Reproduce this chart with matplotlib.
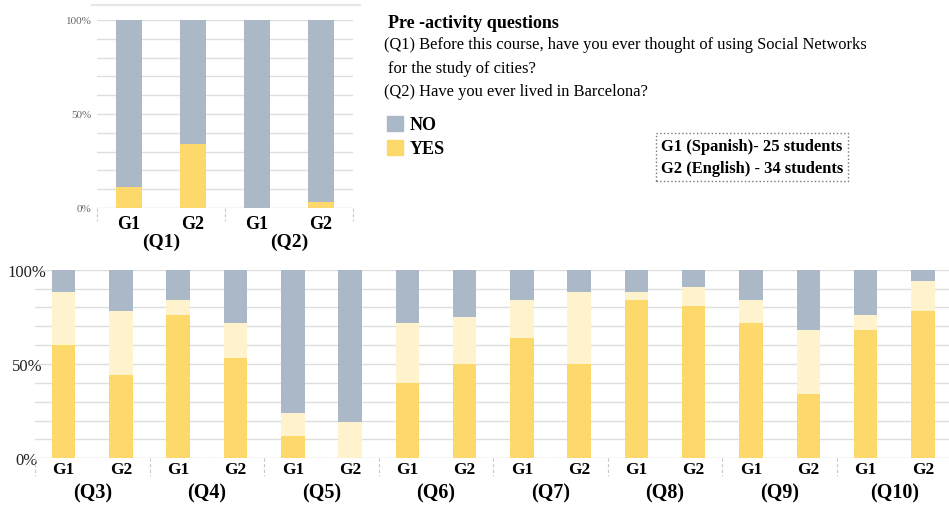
import matplotlib
matplotlib.use("Agg")
import matplotlib.pyplot as plt
from matplotlib.patches import Patch
import numpy as np

plt.rcParams['font.family'] = ['Liberation Serif', 'DejaVu Serif']

C_NO = '#abb8c8'
C_YES = '#fdd86a'
C_MID = '#fef3cc'
C_GRID = '#dedede'

groups = ['G1', 'G2']

# top chart: pre-activity questions
top_q = ['(Q1)', '(Q2)']
top_yes = [11, 34, 0, 3]
top_no = [89, 66, 100, 97]

# bottom chart
bot_q = ['(Q3)', '(Q4)', '(Q5)', '(Q6)', '(Q7)', '(Q8)', '(Q9)', '(Q10)']
bot_yes = [60, 44, 76, 53, 12, 0, 40, 50, 64, 50, 84, 81, 72, 34, 68, 78]
bot_mid = [28, 34, 8, 19, 12, 19, 32, 25, 20, 38, 4, 10, 12, 34, 8, 16]
bot_no = [12, 22, 16, 28, 76, 81, 28, 25, 16, 12, 12, 9, 16, 32, 24, 6]

W, H = 949, 506
fig = plt.figure(figsize=(W / 100, H / 100), dpi=100)


def px_axes(l, t, r, b):
    return fig.add_axes([l / W, 1 - b / H, (r - l) / W, (b - t) / H])


def style_axes(ax, n, sep_len, glabel_y, qlabel_y, qlabels, gsize, qsize):
    ax.set_xlim(-0.5, n - 0.5)
    ax.set_ylim(0, 100)
    for s in ax.spines.values():
        s.set_visible(False)
    ax.set_yticks(np.arange(0, 101, 10), minor=True)
    ax.grid(True, which='both', axis='y', color=C_GRID, lw=1)
    ax.set_axisbelow(True)
    ax.set_xticks([])
    ax.tick_params(axis='y', which='both', length=0)
    ax.axhline(0, color='#c8c8c8', lw=0.8, ls=(0, (3, 2)), zorder=3)
    trans = ax.get_xaxis_transform()
    for k in range(0, n + 1, 2):
        ax.plot([k - 0.5, k - 0.5], [0, -sep_len], transform=trans, clip_on=False,
                color='#c8c8c8', lw=0.8, ls=(0, (3, 2)))
    for i in range(n):
        ax.text(i, glabel_y, groups[i % 2], transform=trans, ha='center', va='center',
                fontsize=gsize, fontweight='bold')
    for j, q in enumerate(qlabels):
        ax.text(2 * j + 0.5, qlabel_y, q, transform=trans, ha='center', va='center',
                fontsize=qsize, fontweight='bold')


# ---- top chart
ax1 = px_axes(97, 21, 353, 209)
x1 = np.arange(len(top_yes))
ax1.bar(x1, top_yes, width=0.4, color=C_YES, zorder=2)
ax1.bar(x1, top_no, width=0.4, bottom=top_yes, color=C_NO, zorder=2)
style_axes(ax1, len(top_yes), 0.07, -0.08, -0.175, top_q, 13, 14)
ax1.set_yticks([0, 50, 100])
ax1.set_yticklabels(['0%', '50%', '100%'], fontsize=8, color='#666666')
ax1.tick_params(axis='y', pad=4)
fig.add_artist(plt.Line2D([92 / W, 360 / W], [1 - 5.5 / H, 1 - 5.5 / H], color='#e6e6e6', lw=1.5))

# ---- bottom chart
ax2 = px_axes(35, 270.7, 951.5, 459.3)
x2 = np.arange(len(bot_yes))
mid_bottom = np.array(bot_yes)
no_bottom = mid_bottom + np.array(bot_mid)
ax2.bar(x2, bot_yes, width=0.41, color=C_YES, zorder=2)
ax2.bar(x2, bot_mid, width=0.41, bottom=mid_bottom, color=C_MID, zorder=2)
ax2.bar(x2, bot_no, width=0.41, bottom=no_bottom, color=C_NO, zorder=2)
style_axes(ax2, len(bot_yes), 0.095, -0.057, -0.18, bot_q, 12.5, 14.5)
ax2.set_yticks([0, 50, 100])
ax2.set_yticklabels(['0%', '50%', '100%'], fontsize=12, color='#222222')
ax2.tick_params(axis='y', pad=5.8)
for lab in ax2.get_yticklabels():
    lab.set_horizontalalignment('center')

# ---- text block
fig.text(388 / W, 1 - 24 / H, 'Pre -activity questions', fontsize=13, fontweight='bold', va='center')
fig.text(384 / W, 1 - 45 / H, '(Q1) Before this course, have you ever thought of using Social Networks',
         fontsize=11.9, va='center')
fig.text(388 / W, 1 - 69 / H, 'for the study of cities?', fontsize=11.9, va='center')
fig.text(384 / W, 1 - 92 / H, '(Q2) Have you ever lived in Barcelona?', fontsize=11.9, va='center')

fig.legend(handles=[Patch(color=C_NO, label='NO'), Patch(color=C_YES, label='YES')],
           loc='upper left', bbox_to_anchor=(374 / W, 1 - 104 / H), frameon=False,
           prop={'weight': 'bold', 'size': 13}, handlelength=0.9, handleheight=0.9,
           handletextpad=0.35, labelspacing=0.35, borderpad=0.2)

fig.text(661 / W, 1 - 158 / H, 'G1 (Spanish)- 25 students\nG2 (English) - 34 students',
         fontsize=11.9, fontweight='bold', va='center', linespacing=1.45,
         bbox=dict(boxstyle='square,pad=0.3', fc='white', ec='#777777', ls=':', lw=1))

fig.savefig('out.png', dpi=100)
